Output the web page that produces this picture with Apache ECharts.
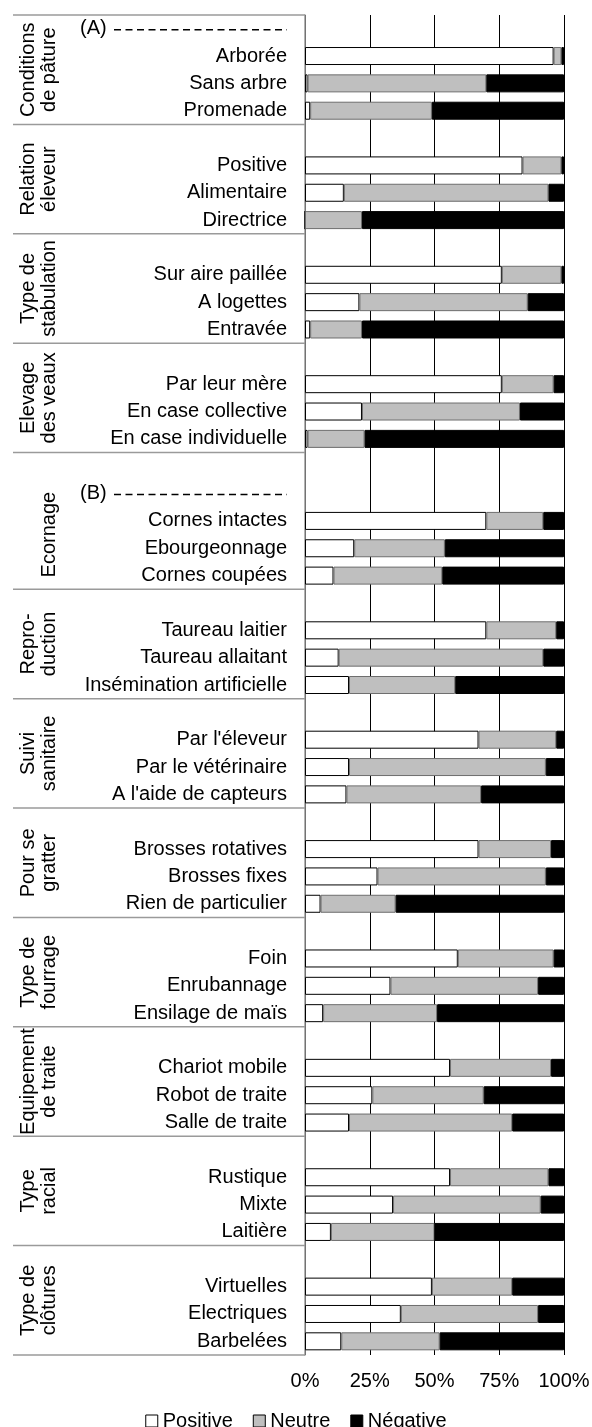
<!DOCTYPE html>
<html>
<head>
<meta charset="utf-8">
<script src="https://cdn.jsdelivr.net/npm/echarts@6/dist/echarts.min.js"></script>
<style>
  html, body { margin: 0; padding: 0; background: #fff; }
  #chart { width: 592px; height: 1427px; }
</style>
</head>
<body>
<div id="chart"></div>
<script>
// one entry per slot on the y axis, '' = empty spacer slot
const rowLabels = [
  '(A)', 'Arborée', 'Sans arbre', 'Promenade',
  '', 'Positive', 'Alimentaire', 'Directrice',
  '', 'Sur aire paillée', 'A logettes', 'Entravée',
  '', 'Par leur mère', 'En case collective', 'En case individuelle',
  '', '(B)', 'Cornes intactes', 'Ebourgeonnage', 'Cornes coupées',
  '', 'Taureau laitier', 'Taureau allaitant', 'Insémination artificielle',
  '', "Par l'éleveur", 'Par le vétérinaire', "A l'aide de capteurs",
  '', 'Brosses rotatives', 'Brosses fixes', 'Rien de particulier',
  '', 'Foin', 'Enrubannage', 'Ensilage de maïs',
  '', 'Chariot mobile', 'Robot de traite', 'Salle de traite',
  '', 'Rustique', 'Mixte', 'Laitière',
  '', 'Virtuelles', 'Electriques', 'Barbelées'
];
const positive = ['-', 96, 1, 2, '-', 84, 15, 0, '-', 76, 21, 2, '-', 76, 22, 1,
  '-', '-', 70, 19, 11, '-', 70, 13, 17, '-', 67, 17, 16, '-', 67, 28, 6,
  '-', 59, 33, 7, '-', 56, 26, 17, '-', 56, 34, 10, '-', 49, 37, 14];
const neutral = ['-', 3, 69, 47, '-', 15, 79, 22, '-', 23, 65, 20, '-', 20, 61, 22,
  '-', '-', 22, 35, 42, '-', 27, 79, 41, '-', 30, 76, 52, '-', 28, 65, 29,
  '-', 37, 57, 44, '-', 39, 43, 63, '-', 38, 57, 40, '-', 31, 53, 38];
const negative = ['-', 1, 30, 51, '-', 1, 6, 78, '-', 1, 14, 78, '-', 4, 17, 77,
  '-', '-', 8, 46, 47, '-', 3, 8, 42, '-', 3, 7, 32, '-', 5, 7, 65,
  '-', 4, 10, 49, '-', 5, 31, 20, '-', 6, 9, 50, '-', 20, 10, 48];

const groupTitles = ['Conditions\nde pâture', 'Relation\néleveur', 'Type de\nstabulation',
  'Elevage\ndes veaux', 'Ecornage', 'Repro-\nduction', 'Suivi\nsanitaire', 'Pour se\ngratter',
  'Type de\nfourrage', 'Equipement\nde traite', 'Type\nracial', 'Type de\nclôtures'];
const groupSizes = [4, 4, 4, 4, 5, 4, 4, 4, 4, 4, 4, 4];
const markers = ['(A)', '(B)'];
const xTicks = [0, 25, 50, 75, 100];

const font = 'Liberation Sans, Arial, sans-serif';
const slotKeys = rowLabels.map((_, i) => 'r' + i);

const chartInstance = echarts.init(document.getElementById('chart'));

const seriesStyle = [
  { name: 'Positive', data: positive, color: '#ffffff', border: '#000000' },
  { name: 'Neutre', data: neutral, color: '#bfbfbf', border: '#6e6e6e' },
  { name: 'Négative', data: negative, color: '#000000', border: '#000000' },
];

const option = {
  animation: false,
  backgroundColor: '#fff',
  textStyle: { fontFamily: font },
  grid: { left: 305, right: 28, top: 15, bottom: 72, outerBoundsMode: 'none' },
  legend: {
    bottom: 0,
    top: 1406,
    left: 'center',
    icon: 'rect',
    itemWidth: 12,
    itemHeight: 12,
    itemGap: 20,
    selectedMode: false,
    textStyle: { fontSize: 20, color: '#000', fontFamily: font },
    data: seriesStyle.map((s) => ({
      name: s.name,
      itemStyle: { color: s.color, borderColor: '#000', borderWidth: 1 },
    })),
  },
  xAxis: {
    type: 'value',
    min: xTicks[0],
    max: xTicks[xTicks.length - 1],
    interval: 25,
    axisLine: { show: false },
    axisTick: { show: false },
    axisLabel: {
      formatter: '{value}%',
      fontSize: 20,
      color: '#000',
      margin: 16,
      fontFamily: font,
    },
    splitLine: { lineStyle: { color: '#000', width: 1 } },
  },
  yAxis: {
    type: 'category',
    inverse: true,
    data: slotKeys,
    axisTick: { show: false },
    axisLine: { lineStyle: { color: '#9a9a9a', width: 1.5 } },
    axisLabel: {
      interval: 0,
      fontSize: 20,
      color: '#000',
      margin: 18,
      fontFamily: font,
      formatter: (v, i) => (markers.includes(rowLabels[i]) ? '' : rowLabels[i]),
    },
  },
  series: seriesStyle.map((s) => ({
    name: s.name,
    type: 'bar',
    stack: 'total',
    barWidth: 18,
    data: s.data,
    itemStyle: { color: s.color, borderColor: s.border, borderWidth: 1 },
  })),
};
chartInstance.setOption(option);

// left-hand panel: group titles, separators and (A)/(B) markers
const yPos = (i) => chartInstance.convertToPixel({ yAxisIndex: 0 }, slotKeys[i]);
const slot = yPos(1) - yPos(0);
const graphics = [];
const sepLine = (y) => ({
  type: 'line',
  shape: { x1: 13, y1: y, x2: 305, y2: y },
  style: { stroke: '#9a9a9a', lineWidth: 1.5 },
});

let start = 0;
graphics.push(sepLine(yPos(0) - slot / 2));
groupTitles.forEach((title, g) => {
  const end = start + groupSizes[g] - 1;
  const from = end - 3;
  const cy = (yPos(from) + yPos(end)) / 2;
  const lines = title.split('\n');
  graphics.push({
    type: 'text',
    x: lines.length > 1 ? 38.5 : 49,
    y: cy,
    rotation: Math.PI / 2,
    style: {
      text: title,
      font: '20px ' + font,
      fill: '#000',
      align: 'center',
      verticalAlign: 'middle',
      lineHeight: 21,
    },
  });
  graphics.push(sepLine(yPos(end) + slot / 2));
  start = end + 1;
});

rowLabels.forEach((label, i) => {
  if (!markers.includes(label)) return;
  const y = yPos(i);
  graphics.push({
    type: 'text',
    x: 80,
    y: y,
    style: { text: label, font: '20px ' + font, fill: '#000', align: 'left', verticalAlign: 'middle' },
  });
  graphics.push({
    type: 'line',
    shape: { x1: 114, y1: y + 1, x2: 287, y2: y + 1 },
    style: { stroke: '#000', lineWidth: 1.5, lineDash: [7, 4.5] },
  });
});

chartInstance.setOption({ graphic: graphics });
</script>
</body>
</html>
